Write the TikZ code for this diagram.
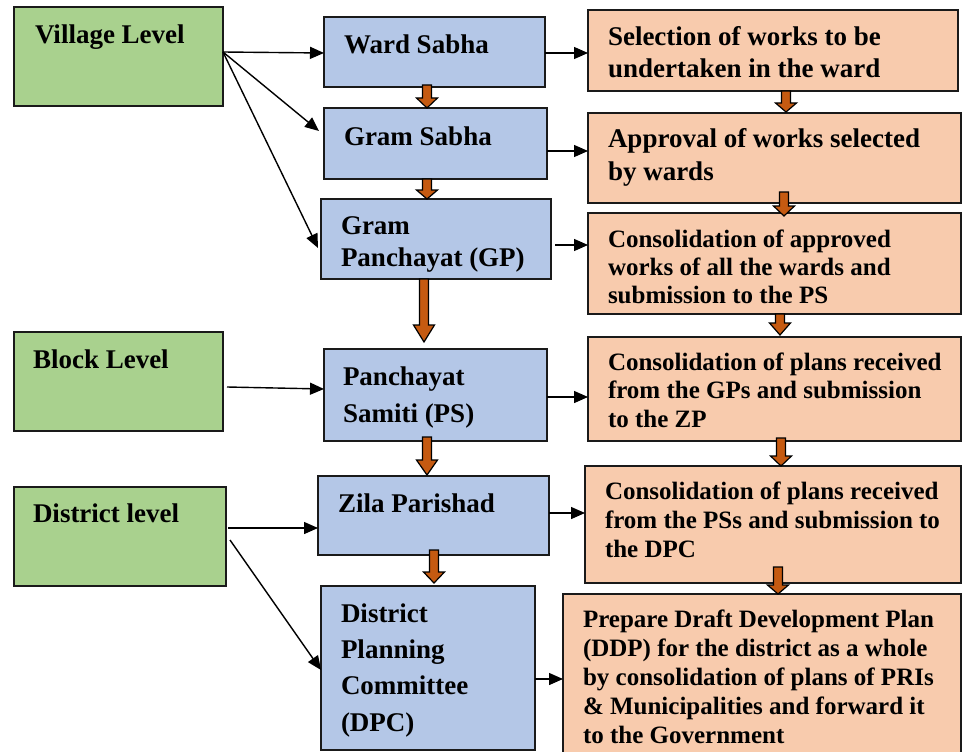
\documentclass[tikz,border=0pt]{standalone}
\usepackage{fontspec}
\setmainfont{Liberation Serif}
\usetikzlibrary{arrows.meta,calc}

\definecolor{lvlgreen}{HTML}{A9D18E}
\definecolor{bodyblue}{HTML}{B4C7E7}
\definecolor{taskpeach}{HTML}{F8CBAD}
\definecolor{flowrust}{HTML}{C55A11}
\definecolor{edge}{HTML}{1A1A1A}

% font size / line spacing, bold
\newcommand\tf[2]{\fontsize{#1}{#2}\selectfont\bfseries}

% rectangle from corner (x1,y1) to (x2,y2)
\newcommand\mkbox[6]{%
  \node[#1, anchor=north west, minimum width={(#5)-(#3)}, minimum height={(#6)-(#4)}] (#2) at (#3,#4) {};}

% thick downward flow arrow: {x}{from}{to}{lift of tail}{gap before tip}{head length}
\newcommand\flowdown[6]{%
  \path (#1,0 |- #2.south) coordinate (fa0) (#1,0 |- #3.north) coordinate (fb0);
  \path ($(fa0)+(0,-#4)$) coordinate (fa) ($(fb0)+(0,-#5)$) coordinate (fb);
  \draw[flow] ($(fa)+(-4.5,0)$) -- ($(fb)+(-4.5,-#6)$) -- ($(fb)+(-10.5,-#6)$) -- (fb)
    -- ($(fb)+(10.5,-#6)$) -- ($(fb)+(4.5,-#6)$) -- ($(fa)+(4.5,0)$) -- cycle;}

\tikzset{
  panel/.style={draw=edge, line width=2pt, inner sep=0pt, outer sep=0pt},
  level/.style={panel, fill=lvlgreen},
  body/.style={panel, fill=bodyblue},
  task/.style={panel, fill=taskpeach},
  txt/.style={anchor=north west, inner sep=0pt, outer sep=0pt, align=left, text=black},
  link/.style={draw=black, line width=1.4pt, -{Triangle[length=14pt,width=12pt]}},
  flow/.style={draw=black, line width=1.2pt, fill=flowrust, line join=miter},
}

\begin{document}
\begin{tikzpicture}[x=1pt,y=-1pt]
\useasboundingbox (0,0) rectangle (962,752);
\clip (0,0) rectangle (962,752);

% ---- level boxes ----
\mkbox{level}{village}{14}{7}{223}{106}
\mkbox{level}{block}{14}{332}{223}{431}
\mkbox{level}{district}{14}{487}{226}{586}
\node[txt, font=\tf{27}{32}] (villageT) at (35,24.6) {Village Level};
\node[txt, font=\tf{27}{32}] (blockT) at (33,349.6) {Block Level};
\node[txt, font=\tf{27}{32}] (districtT) at (33,503.6) {District level};

% ---- bodies ----
\mkbox{body}{ward}{324}{17}{545}{87}
\mkbox{body}{gram}{324}{108}{547}{179}
\mkbox{body}{gp}{321}{199}{551}{279}
\mkbox{body}{ps}{324}{349}{547}{441}
\mkbox{body}{zila}{318}{476}{549}{555}
\mkbox{body}{dpc}{321}{586}{535}{750}
\node[txt, font=\tf{27}{32}] (wardT) at (344,34.6) {Ward Sabha};
\node[txt, font=\tf{27}{32}] (gramT) at (344,126.6) {Gram Sabha};
\node[txt, font=\tf{27}{32}] (gpT) at (341,216.7) {Gram\\Panchayat (GP)};
\node[txt, font=\tf{27}{36.7}] (psT) at (343,366.7) {Panchayat\\Samiti (PS)};
\node[txt, font=\tf{27}{32}] (zilaT) at (338,493.6) {Zila Parishad};
\node[txt, font=\tf{27}{36.3}] (dpcT) at (341,603.6) {District\\Planning\\Committee\\(DPC)};

% ---- tasks ----
\mkbox{task}{sel}{588}{10}{958}{91}
\mkbox{task}{appr}{588}{113}{961}{203}
\mkbox{task}{consA}{588}{213}{961}{314}
\mkbox{task}{consB}{588}{337}{961}{441}
\mkbox{task}{consC}{585}{466}{961}{583}
\mkbox{task}{ddp}{563}{594}{961}{770}
\node[txt, font=\tf{27}{32}] (selT) at (608,26.6) {Selection of works to be\\undertaken in the ward};
\node[txt, font=\tf{27}{33}] (apprT) at (608,128.5) {Approval of works selected\\by wards};
\node[txt, font=\tf{25}{28}] (consAT) at (608,229.8) {Consolidation of approved\\works of all the wards and\\submission to the PS};
\node[txt, font=\tf{25}{28.5}] (consBT) at (608,352.8) {Consolidation of plans received\\from the GPs and submission\\to the ZP};
\node[txt, font=\tf{25}{29}] (consCT) at (605,481.8) {Consolidation of plans received\\from the PSs and submission to\\the DPC};
\node[txt, font=\tf{25}{29}] (ddpT) at (583,609.8) {Prepare Draft Development Plan\\(DDP) for the district as a whole\\by consolidation of plans of PRIs\\\& Municipalities and forward it\\to the Government};

% ---- level links ----
\coordinate (vOut) at (223,52);
\draw[link] (vOut) -- (ward.west |- 0,53);
\draw[link] (vOut) -- (319,131);
\draw[link] (vOut) -- (318,248);
\draw[link] (227,387) -- (ps.west |- 0,389);
\draw[link] (228,528) -- (zila.west |- 0,528);
\draw[link] (230,540) -- (dpc.west |- 0,670);

% ---- body to task links ----
\draw[link] (ward.east |- 0,53) -- (sel.west |- 0,53);
\draw[link] (gram.east |- 0,151) -- (appr.west |- 0,151);
\draw[link] (555,245) -- (consA.west |- 0,245);
\draw[link] (ps.east |- 0,397) -- (consB.west |- 0,397);
\draw[link] (zila.east |- 0,513) -- (consC.west |- 0,513);
\draw[link] (dpc.east |- 0,679) -- (ddp.west |- 0,679);

% ---- downward flow ----
\flowdown{427}{ward}{gram}{2}{0}{10}
\flowdown{427}{gram}{gp}{0}{0}{9}
\flowdown{424}{gp}{ps}{0}{7}{17}
\flowdown{427}{ps}{zila}{4}{1}{15}
\flowdown{434}{zila}{dpc}{5}{3}{11}
\flowdown{786}{sel}{appr}{0}{1}{9}
\flowdown{784}{appr}{consA}{11}{-3}{10}
\flowdown{780}{consA}{consB}{0}{2}{12}
\flowdown{781}{consB}{consC}{3}{0}{10}
\flowdown{778}{consC}{ddp}{16}{0}{9}
\end{tikzpicture}
\end{document}
